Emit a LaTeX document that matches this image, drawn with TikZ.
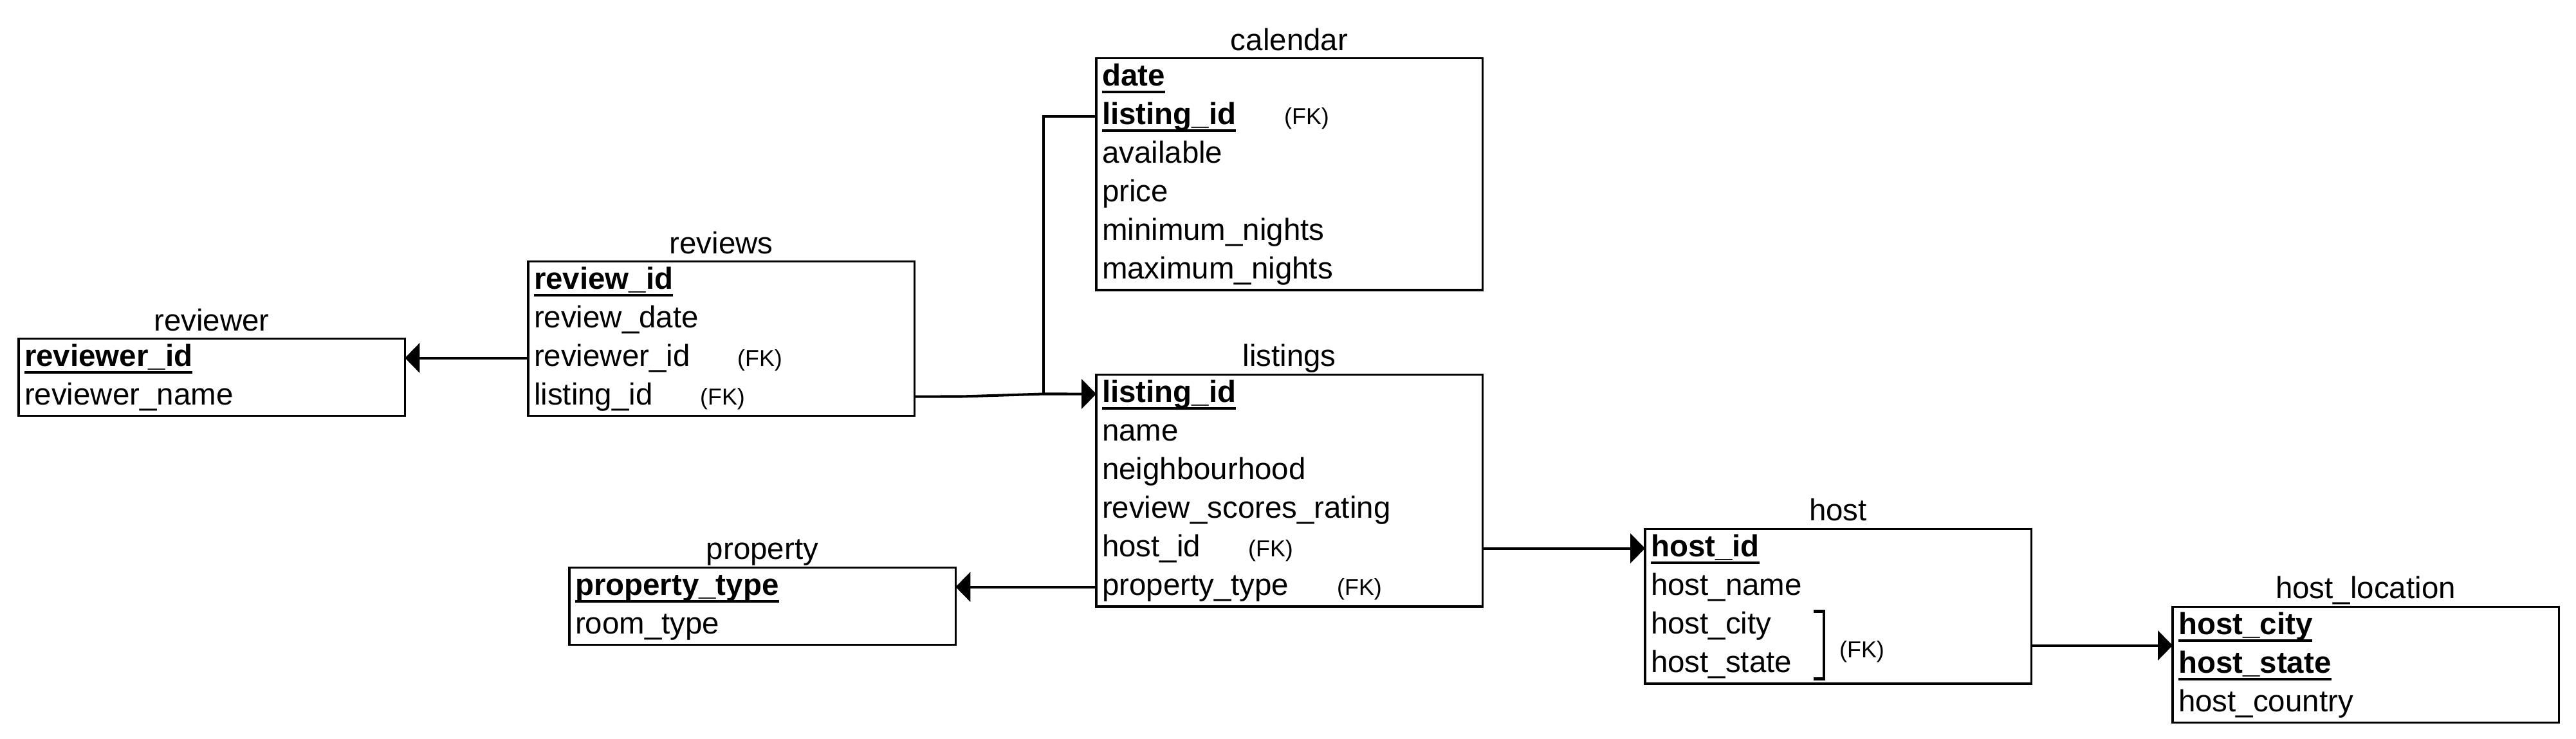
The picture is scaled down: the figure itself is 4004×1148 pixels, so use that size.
\documentclass[tikz,border=0pt]{standalone}
\usepackage{fontspec}
\setmainfont{Liberation Sans}
\usetikzlibrary{arrows.meta}
\newcommand{\mainsz}{\fontsize{13.5pt}{16pt}\selectfont}
\newcommand{\fksz}{\fontsize{10.2pt}{12pt}\selectfont}
\newsavebox{\pkbox}
\newcommand{\pkey}[1]{\sbox{\pkbox}{\textbf{#1}}\usebox{\pkbox}\llap{\rule[-3.2pt]{\wd\pkbox}{1pt}}}
\begin{document}
\begin{tikzpicture}[x=0.01cm,y=-0.01cm,
  tbl/.style={draw, line width=1.05pt, minimum width=6cm, anchor=north west, inner sep=0pt, outer sep=0pt},
  row/.style={minimum width=6cm, minimum height=0.6cm, text width=5.82cm, align=left, inner xsep=0.09cm, inner ysep=0pt, text height=0.34cm, text depth=0.08cm, anchor=north west, outer sep=0pt, font=\mainsz},
  ttl/.style={anchor=base, font=\mainsz, inner sep=0pt},
  fk/.style={anchor=base, font=\fksz, inner sep=0pt},
  conn/.style={line width=1.15pt},
  arr/.style={conn, -{Triangle[length=0.23cm,width=0.46cm]}}]
\fill[white] (0,0) rectangle (4004,1148);
\useasboundingbox (0,0) rectangle (4004,1148);
\begin{scope}[shift={(0,2.5)}]
% reviewer
\node[tbl, minimum height=1.2cm] (rr) at (29,524) {};
\node[ttl] (rr-t) at (329,512) {reviewer};
\node[row] (rr-1) at (29,524) {\pkey{reviewer\_id}};
\node[row] (rr-2) at (29,584) {reviewer\_name};

% reviews
\node[tbl, minimum height=2.4cm] (rv) at (821,404) {};
\node[ttl] (rv-t) at (1121,392) {reviews};
\node[row] (rv-1) at (821,404) {\pkey{review\_id}};
\node[row] (rv-2) at (821,464) {review\_date};
\node[row] (rv-3) at (821,524) {reviewer\_id};
\node[row] (rv-4) at (821,584) {listing\_id};
\node[fk] (rv-fk3) at (1181,567) {(FK)};
\node[fk] (rv-fk4) at (1123,627) {(FK)};

% calendar
\node[tbl, minimum height=3.6cm] (cal) at (1704,88) {};
\node[ttl] (cal-t) at (2004,76) {calendar};
\node[row] (cal-1) at (1704,88) {\pkey{date}};
\node[row] (cal-2) at (1704,148) {\pkey{listing\_id}};
\node[row] (cal-3) at (1704,208) {available};
\node[row] (cal-4) at (1704,268) {price};
\node[row] (cal-5) at (1704,328) {minimum\_nights};
\node[row] (cal-6) at (1704,388) {maximum\_nights};
\node[fk] (cal-fk2) at (2031,191) {(FK)};

% listings
\node[tbl, minimum height=3.6cm] (ls) at (1704,580) {};
\node[ttl] (ls-t) at (2004,567) {listings};
\node[row] (ls-1) at (1704,580) {\pkey{listing\_id}};
\node[row] (ls-2) at (1704,640) {name};
\node[row] (ls-3) at (1704,700) {neighbourhood};
\node[row] (ls-4) at (1704,760) {review\_scores\_rating};
\node[row] (ls-5) at (1704,820) {host\_id};
\node[row] (ls-6) at (1704,880) {property\_type};
\node[fk] (ls-fk5) at (1975,863) {(FK)};
\node[fk] (ls-fk6) at (2113,923) {(FK)};

% property
\node[tbl, minimum height=1.2cm] (pr) at (885,880) {};
\node[ttl] (pr-t) at (1185,867) {property};
\node[row] (pr-1) at (885,880) {\pkey{property\_type}};
\node[row] (pr-2) at (885,940) {room\_type};

% host
\node[tbl, minimum height=2.4cm] (hs) at (2557,820) {};
\node[ttl] (hs-t) at (2857,807) {host};
\node[row] (hs-1) at (2557,820) {\pkey{host\_id}};
\node[row] (hs-2) at (2557,880) {host\_name};
\node[row] (hs-3) at (2557,940) {host\_city};
\node[row] (hs-4) at (2557,1000) {host\_state};
\node[fk] (hs-fk) at (2894,1020) {(FK)};
\draw[conn] (2819,948) -- (2835,948) -- (2835,1053) -- (2819,1053);

% host_location
\node[tbl, minimum height=1.8cm] (hl) at (3377,941) {};
\node[ttl] (hl-t) at (3677,928) {host\_location};
\node[row] (hl-1) at (3377,941) {\pkey{host\_city}};
\node[row] (hl-2) at (3377,1001) {\pkey{host\_state}};
\node[row] (hl-3) at (3377,1061) {host\_country};

% connectors
\coordinate (j1) at (1622,610);
\coordinate (j0) at (1495,614);
\draw[arr] (rv-3.west) -- (rr-1.east);
\draw[arr] (rv-4.east) -- (j0) -- (j1) -- (ls-1.west);
\draw[conn] (cal-2.west) -| (j1);
\draw[arr] (ls-6.west) -- (pr-1.east);
\draw[arr] (ls-5.east) -- (hs-1.west);
\draw[arr] (hs.east |- hl-1.south) -- (hl-1.south west);
\end{scope}
\end{tikzpicture}
\end{document}
